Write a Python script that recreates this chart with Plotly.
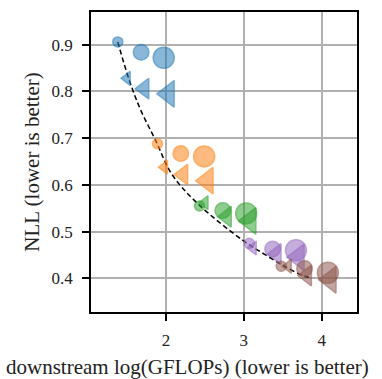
import plotly.graph_objects as go

# Per-family results: downstream log(GFLOPs) vs NLL, three model sizes each
colors = ["#1f77b4", "#ff7f0e", "#2ca02c", "#9467bd", "#8c564b"]

circle_x = [
    [1.38, 1.68, 1.97],
    [1.89, 2.19, 2.49],
    [2.43, 2.73, 3.03],
    [3.07, 3.37, 3.67],
    [3.48, 3.78, 4.08],
]
circle_y = [
    [0.906, 0.884, 0.872],
    [0.688, 0.667, 0.661],
    [0.555, 0.545, 0.539],
    [0.475, 0.463, 0.460],
    [0.426, 0.421, 0.412],
]
tri_x = [
    [1.50, 1.72, 2.03],
    [1.98, 2.22, 2.53],
    [2.50, 2.78, 3.08],
    [3.12, 3.42, 3.70],
    [3.57, 3.81, 4.11],
]
tri_y = [
    [0.828, 0.806, 0.795],
    [0.638, 0.622, 0.609],
    [0.562, 0.532, 0.523],
    [0.465, 0.452, 0.445],
    [0.426, 0.406, 0.397],
]

# Fitted frontier (dashed)
front_x = [1.38, 1.52, 1.67, 1.87, 2.07, 2.40, 2.99, 3.29, 3.51, 3.77, 3.85]
front_y = [0.906, 0.828, 0.762, 0.694, 0.624, 0.561, 0.481, 0.449, 0.427, 0.405, 0.402]

x_ticks = [2, 3, 4]
y_ticks = [0.4, 0.5, 0.6, 0.7, 0.8, 0.9]

circle_sizes = [10, 15.5, 21]
tri_sizes = [12, 18, 23]

SERIF = "'Liberation Serif', 'Times New Roman', 'DejaVu Serif', serif"


def rgba(hex_color, alpha):
    h = hex_color.lstrip("#")
    r, g, b = int(h[0:2], 16), int(h[2:4], 16), int(h[4:6], 16)
    return f"rgba({r},{g},{b},{alpha})"


fig = go.Figure()

fig.add_trace(go.Scatter(
    x=front_x, y=front_y, mode="lines",
    line=dict(color="black", width=1.5, dash="5px,3px", shape="spline"),
    showlegend=False, hoverinfo="skip",
))

for c in range(len(colors)):
    col = colors[c]
    fig.add_trace(go.Scatter(
        x=circle_x[c], y=circle_y[c], mode="markers",
        marker=dict(symbol="circle", size=circle_sizes, color=rgba(col, 0.75),
                    line=dict(color=rgba(col, 0.85), width=1.5)),
        showlegend=False,
    ))
    fig.add_trace(go.Scatter(
        x=tri_x[c], y=tri_y[c], mode="markers",
        marker=dict(symbol="triangle-left", size=tri_sizes, color=rgba(col, 0.75),
                    line=dict(color=rgba(col, 0.85), width=1.5)),
        showlegend=False,
    ))

axis_common = dict(
    showgrid=True, gridcolor="#b0b0b0", gridwidth=1.5,
    showline=True, linecolor="black", linewidth=1.5, mirror=True,
    ticks="outside", ticklen=7, tickwidth=1.5, tickcolor="black",
    zeroline=False,
    tickfont=dict(family=SERIF, size=17, color="#222"),
)

fig.update_xaxes(range=[1.036, 4.454], tickvals=x_ticks,
                 ticktext=[str(v) for v in x_ticks], ticklabelstandoff=5,
                 **axis_common)
fig.update_yaxes(range=[0.328, 0.970], tickvals=y_ticks,
                 ticktext=[f"{v:.1f}" for v in y_ticks], ticklabelstandoff=6,
                 **axis_common)

fig.update_yaxes(title=dict(text="NLL (lower is better)",
                            font=dict(family=SERIF, size=21, color="#222"),
                            standoff=6))

fig.add_annotation(
    text="downstream log(GFLOPs) (lower is better)",
    xref="paper", yref="paper", x=0.363, y=-0.182,
    xanchor="center", yanchor="middle", showarrow=False,
    font=dict(family=SERIF, size=21, color="#222"),
)

fig.update_layout(
    width=382, height=379,
    margin=dict(l=91, r=25, t=10, b=67),
    plot_bgcolor="white", paper_bgcolor="white",
    font=dict(family=SERIF, color="#222"),
)

fig.write_html("out.html")
